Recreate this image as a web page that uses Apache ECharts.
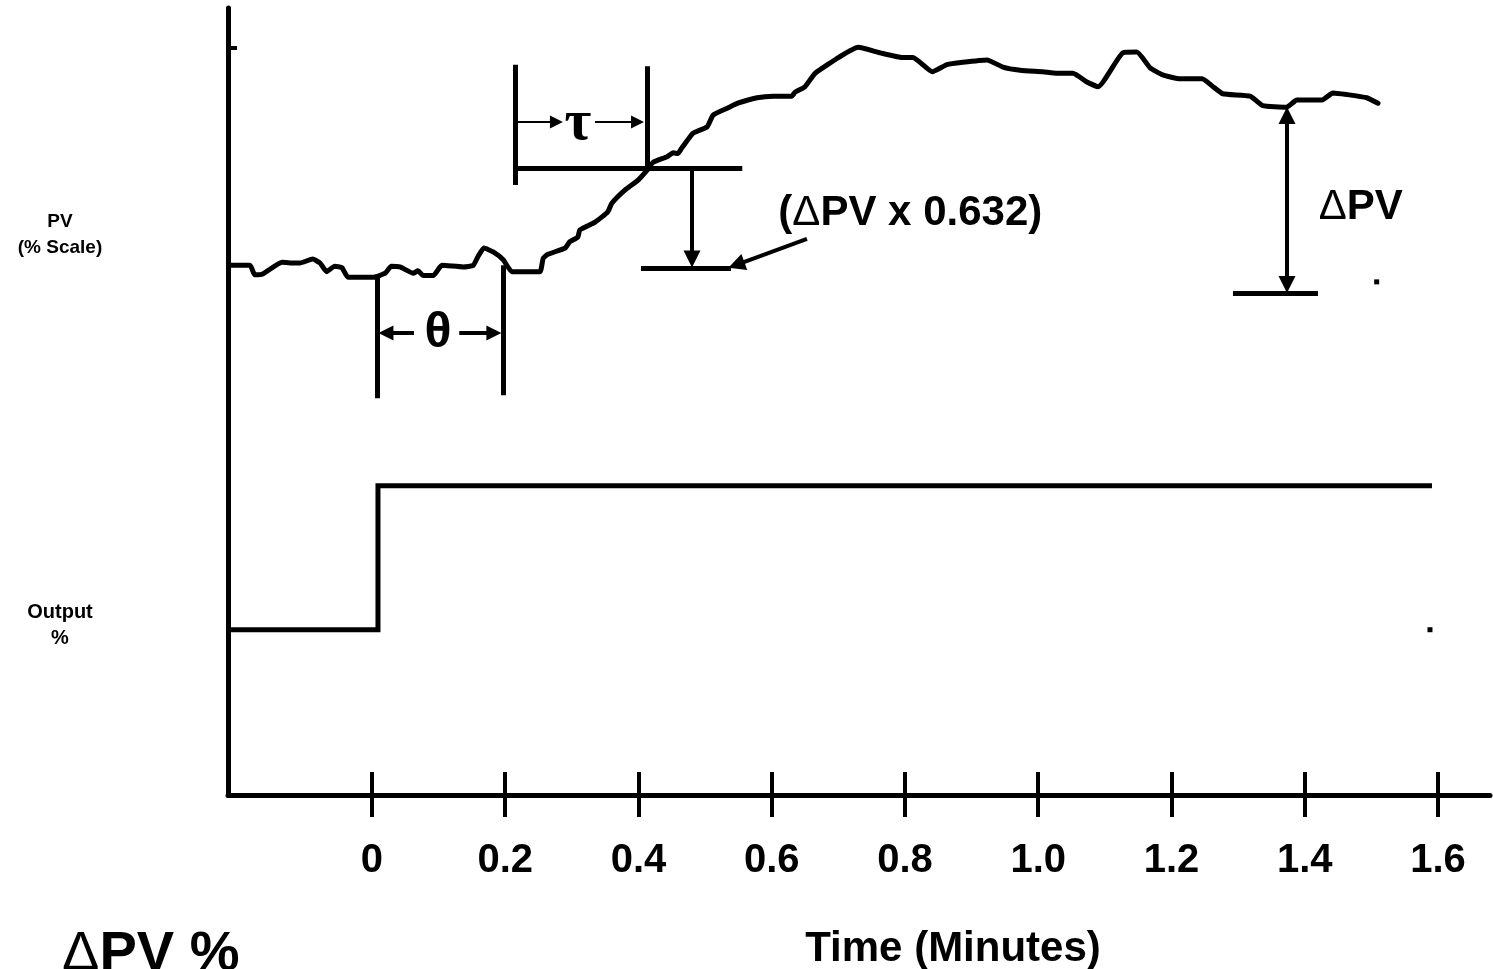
<!DOCTYPE html>
<html>
<head>
<meta charset="utf-8">
<script src="https://cdn.jsdelivr.net/npm/echarts@6/dist/echarts.min.js"></script>
<style>html,body{margin:0;padding:0;background:#fff}#chart{width:1493px;height:969px}</style>
</head>
<body>
<div id="chart"></div>
<script>
// ---- data ----
const tickValues = [0, 0.2, 0.4, 0.6, 0.8, 1.0, 1.2, 1.4, 1.6];
const tickLabels = ['0', '0.2', '0.4', '0.6', '0.8', '1.0', '1.2', '1.4', '1.6'];

const pvTime = [-0.213,-0.183,-0.176,-0.164,-0.135,-0.123,-0.108,-0.089,-0.078,-0.068,
  -0.056,-0.045,-0.036,0.002,0.020,0.029,0.042,0.062,0.069,0.077,
  0.092,0.105,0.137,0.152,0.159,0.168,0.182,0.197,0.210,0.252,
  0.257,0.264,0.290,0.297,0.309,0.312,0.335,0.354,0.360,0.380,
  0.399,0.413,0.422,0.443,0.452,0.459,0.465,0.482,0.503,0.512,
  0.534,0.549,0.578,0.602,0.630,0.635,0.650,0.665,0.702,0.730,
  0.763,0.797,0.812,0.841,0.863,0.887,0.923,0.947,0.973,1.007,
  1.028,1.052,1.073,1.090,1.127,1.148,1.168,1.187,1.213,1.246,
  1.261,1.277,1.318,1.337,1.373,1.388,1.426,1.442,1.463,1.493,1.510];
const pvValue = [67.3,67.3,66.1,66.2,67.7,67.6,67.6,68.1,67.6,66.5,
  67.2,67.0,65.8,65.8,66.3,67.2,67.1,66.3,66.6,66.0,
  66.0,67.3,67.1,67.3,68.4,69.5,69.0,68.0,66.5,66.5,
  68.2,68.7,69.5,70.3,70.9,71.8,72.8,74.1,75.2,76.9,
  78.1,79.4,80.4,81.1,81.6,81.5,82.2,84.1,84.9,86.4,
  87.3,87.9,88.6,88.8,88.8,89.3,90.0,91.7,93.8,95.0,
  94.3,93.7,93.7,91.9,92.8,93.1,93.4,92.5,92.1,91.9,
  91.7,91.7,90.6,90.0,94.3,94.4,92.4,91.5,91.0,91.0,
  90.1,89.1,88.8,87.6,87.4,88.3,88.3,89.2,89.0,88.6,87.9];

const outputTime = [-0.213, 0.009, 0.009, 1.591];
const outputValue = [21.0, 21.0, 39.3, 39.3];

// bracket / reference segments [[t1,v1],[t2,v2]]
const bracketSegments = [
  [[0.0075, 65.8], [0.0075, 50.4]],   // theta left
  [[0.1966, 67.3], [0.1966, 50.8]],   // theta right
  [[0.2146, 92.8], [0.2146, 77.5]],   // tau left
  [[0.4128, 92.6], [0.4128, 79.5]],   // tau right
  [[0.2146, 79.67], [0.5558, 79.67]], // tau horizontal
  [[0.4038, 66.96], [0.5388, 66.96]], // 0.632 level
  [[1.2923, 63.79], [1.4199, 63.79]]  // delta PV base
];
const thetaArrows = [
  [[0.063, 58.7], [0.021, 58.7]],
  [[0.131, 58.7], [0.183, 58.7]]
];
const tauArrows = [
  [[0.2191, 85.5], [0.2769, 85.5]],
  [[0.3347, 85.5], [0.3985, 85.5]]
];
const pointerArrows = [
  [[0.4803, 79.67], [0.4803, 68.11]],
  [[0.6529, 70.65], [0.5469, 67.36]]
];
const deltaArrow = [[[1.3734, 86.34], [1.3734, 64.87]]];

const annotations = [
  [0.808, 73.9, '(ΔPV x 0.632)'],
  [1.484, 74.7, 'ΔPV']
];
const greekLabels = [
  [0.099, 58.7, 'θ'],
  [0.309, 85.3, 'τ']
];
const strayDots = [[1.508, 65.2], [1.588, 21.0]];
const yTickValues = [94.9];

// ---- chart ----
const FONT = "'Liberation Sans', Arial, Helvetica, sans-serif";
const chart = echarts.init(document.getElementById('chart'), null, {renderer: 'canvas'});

function segs(list) { return list.map(c => ({coords: c})); }
function zip(a, b) { return a.map((t, i) => [t, b[i]]); }
const richD = {d: {fontFamily: FONT, fontWeight: 'normal', fontSize: 42, color: '#000'}};
const greekStyle = {
  'θ': {fontFamily: FONT, fontSize: 50},
  'τ': {fontFamily: "'Liberation Serif', 'DejaVu Serif', serif", fontSize: 58}
};

const xCommon = {type: 'value', min: -0.2161, max: 1.6781, splitLine: {show: false}, position: 'bottom'};
const hidden = {color: 'rgba(0,0,0,0)', opacity: 1};

chart.setOption({
  animation: false,
  backgroundColor: '#fff',
  grid: {left: 228, right: 3, top: 8, bottom: 174, containLabel: false},
  xAxis: [
    Object.assign({}, xCommon, {
      axisLine: {show: true, onZero: false, lineStyle: {color: '#000', width: 5}},
      axisTick: {show: true, inside: false, length: 22, customValues: tickValues, lineStyle: {color: '#000', width: 4}},
      axisLabel: {show: true, customValues: tickValues, margin: 46, color: '#000', fontSize: 40, fontWeight: 'bold', fontFamily: FONT,
        formatter: v => { const i = tickValues.findIndex(x => Math.abs(x - v) < 1e-9); return i >= 0 ? tickLabels[i] : ''; }}
    }),
    Object.assign({}, xCommon, {
      axisLine: {show: false, onZero: false},
      axisTick: {show: true, inside: true, length: 23, customValues: tickValues, lineStyle: {color: '#000', width: 4}},
      axisLabel: {show: false}
    })
  ],
  yAxis: {
    type: 'value', min: 0, max: 100, splitLine: {show: false},
    axisLine: {show: true, onZero: false, lineStyle: {color: '#000', width: 5}},
    axisTick: {show: true, inside: true, length: 9, customValues: yTickValues, lineStyle: {color: '#000', width: 4}},
    axisLabel: {show: false}
  },
  graphic: [
    {type: 'text', x: 60, y: 235, style: {text: 'PV\n(% Scale)', fill: '#000', fontSize: 19, fontWeight: 'bold', fontFamily: FONT, lineHeight: 26, align: 'center', verticalAlign: 'middle'}},
    {type: 'text', x: 60, y: 625, style: {text: 'Output\n%', fill: '#000', fontSize: 20, fontWeight: 'bold', fontFamily: FONT, lineHeight: 26, align: 'center', verticalAlign: 'middle'}},
    {type: 'text', x: 62, y: 955, style: {text: '{d|Δ}PV %', fill: '#000', fontSize: 56, fontWeight: 'bold', fontFamily: FONT, align: 'left', verticalAlign: 'middle',
      rich: {d: {fontFamily: FONT, fontWeight: 'normal', fontSize: 56, fill: '#000'}}}},
    {type: 'text', x: 953, y: 949, style: {text: 'Time (Minutes)', fill: '#000', fontSize: 42, fontWeight: 'bold', fontFamily: FONT, align: 'center', verticalAlign: 'middle'}}
  ],
  series: [
    {name: 'PV', type: 'line', data: zip(pvTime, pvValue), showSymbol: false, symbol: 'none', smooth: 0.15,
      lineStyle: {color: '#000', width: 5, join: 'round', cap: 'round'}, z: 3},
    {name: 'Output', type: 'line', data: zip(outputTime, outputValue), showSymbol: false, symbol: 'none',
      lineStyle: {color: '#000', width: 5, join: 'miter'}, z: 3},
    {type: 'lines', coordinateSystem: 'cartesian2d', data: segs(bracketSegments), symbol: 'none',
      lineStyle: {color: '#000', width: 5, opacity: 1, curveness: 0}, z: 4},
    {type: 'lines', coordinateSystem: 'cartesian2d', data: segs(thetaArrows), symbol: ['none', 'triangle'], symbolSize: [1, 15],
      lineStyle: {color: '#000', width: 4, opacity: 1}, itemStyle: {color: '#000'}, z: 4},
    {type: 'lines', coordinateSystem: 'cartesian2d', data: segs(tauArrows), symbol: ['none', 'triangle'], symbolSize: [1, 13],
      lineStyle: {color: '#000', width: 2, opacity: 1}, itemStyle: {color: '#000'}, z: 4},
    {type: 'lines', coordinateSystem: 'cartesian2d', data: segs(pointerArrows), symbol: ['none', 'triangle'], symbolSize: [1, 17],
      lineStyle: {color: '#000', width: 4, opacity: 1}, itemStyle: {color: '#000'}, z: 4},
    {type: 'lines', coordinateSystem: 'cartesian2d', data: segs(deltaArrow), symbol: ['triangle', 'triangle'], symbolSize: [17, 17],
      lineStyle: {color: '#000', width: 4, opacity: 1}, itemStyle: {color: '#000'}, z: 4},
    {type: 'scatter', data: annotations, symbolSize: 1, itemStyle: hidden, z: 5,
      label: {show: true, position: 'inside', color: '#000', opacity: 1, fontSize: 42, fontWeight: 'bold', fontFamily: FONT,
        formatter: p => p.data[2].replace(/Δ/g, '{d|Δ}'), rich: richD}},
    {type: 'scatter', symbolSize: 1, itemStyle: hidden, z: 5,
      data: greekLabels.map(g => ({value: g, label: Object.assign({show: true, position: 'inside', color: '#000', opacity: 1, fontWeight: 'bold'}, greekStyle[g[2]])})),
      label: {show: true, position: 'inside', formatter: p => p.data.value[2]}},
    {type: 'scatter', data: strayDots, symbol: 'rect', symbolSize: 5, itemStyle: {color: '#000', opacity: 1}, z: 5}
  ]
});
</script>
</body>
</html>
